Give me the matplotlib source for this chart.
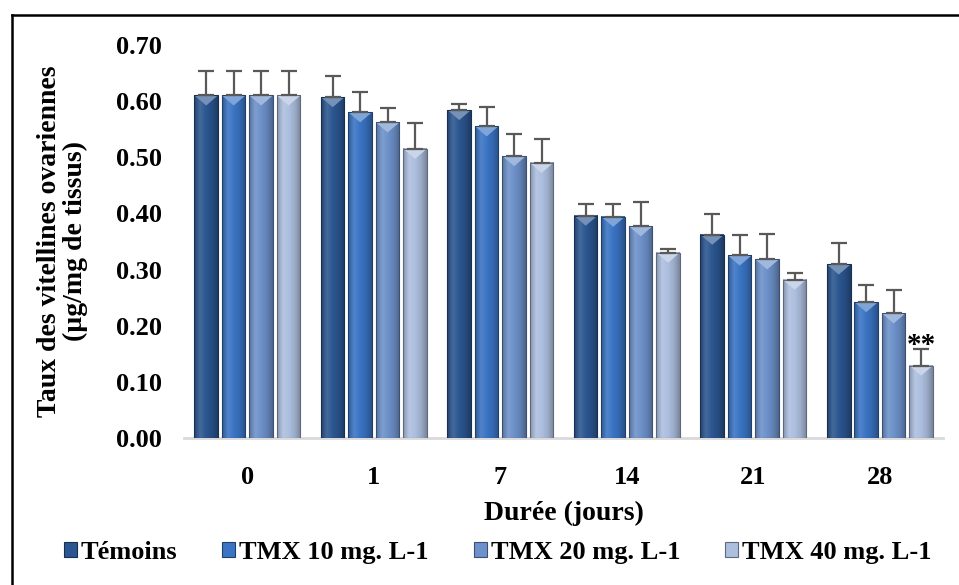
import numpy as np
import matplotlib
matplotlib.use('Agg')
import matplotlib.pyplot as plt
from matplotlib.colors import LinearSegmentedColormap, to_rgb
from matplotlib.patches import Patch, Polygon
from matplotlib.lines import Line2D

jours = ['0', '1', '7', '14', '21', '28']
series = ['Témoins', 'TMX 10 mg. L-1', 'TMX 20 mg. L-1', 'TMX 40 mg. L-1']

temoins = [0.610, 0.607, 0.584, 0.396, 0.362, 0.309]
tmx10 = [0.610, 0.580, 0.555, 0.394, 0.325, 0.242]
tmx20 = [0.610, 0.562, 0.502, 0.377, 0.318, 0.222]
tmx40 = [0.610, 0.515, 0.490, 0.330, 0.282, 0.129]

err_temoins = [0.043, 0.037, 0.010, 0.021, 0.037, 0.038]
err_tmx10 = [0.043, 0.036, 0.034, 0.022, 0.036, 0.030]
err_tmx20 = [0.043, 0.026, 0.040, 0.043, 0.046, 0.041]
err_tmx40 = [0.043, 0.045, 0.043, 0.007, 0.011, 0.030]

signif_label = '**'   # on TMX 40, day 28

colors = ['#2b5690', '#3a74c3', '#6d91ca', '#adbfdf']

plt.rcParams['font.family'] = ['Liberation Serif', 'DejaVu Serif']
plt.rcParams['font.weight'] = 'bold'


def shade(c, f):
    r = np.array(to_rgb(c))
    if f < 1:
        return tuple(r * f)
    return tuple(r + (1 - r) * (f - 1))


fig = plt.figure(figsize=(9.59, 5.85), dpi=100)
ax = fig.add_axes([0.192, 0.2513, 0.7915, 0.672])

values = [temoins, tmx10, tmx20, tmx40]
errors = [err_temoins, err_tmx10, err_tmx20, err_tmx40]
x = np.arange(len(jours))
pitch = 0.217
width = 0.186

ylim = (0, 0.70)
handles = []
for i, (vals, errs, col) in enumerate(zip(values, errors, colors)):
    pos = x + (i - 1.5) * pitch
    bars = ax.bar(pos, vals, width, facecolor='none', edgecolor=shade(col, 0.55),
                  linewidth=0.8, zorder=3)
    cmap = LinearSegmentedColormap.from_list(
        'g%d' % i, [shade(col, 0.78), shade(col, 1.12), col, shade(col, 0.9), shade(col, 0.7)])
    grad = np.linspace(0, 1, 64).reshape(1, -1)
    for rect in bars:
        x0, w, h = rect.get_x(), rect.get_width(), rect.get_height()
        ax.imshow(grad, extent=[x0, x0 + w, 0, h], cmap=cmap, aspect='auto',
                  interpolation='bicubic', zorder=2)
        dh = 0.018
        tri = Polygon([(x0, h), (x0 + w, h), (x0 + w / 2, h - dh)], closed=True,
                      facecolor=shade(col, 1.35), edgecolor='none', zorder=2.5)
        ax.add_patch(tri)
    ax.errorbar(pos, vals, yerr=[np.zeros(len(vals)), errs], fmt='none',
                ecolor='#595959', elinewidth=1.6, capsize=5.5, capthick=1.6, zorder=4)
    handles.append(Patch(facecolor=col, edgecolor=shade(col, 0.55), linewidth=0.8))

# significance mark
last = len(jours) - 1
ax.text(x[last] + 1.5 * pitch, tmx40[last] + err_tmx40[last] + 0.006, signif_label,
        ha='center', va='center', fontsize=21, fontweight='bold')

ax.set_xlim(-0.5, len(jours) - 0.5)
ax.set_ylim(*ylim)
ax.set_yticks(np.arange(0, 0.71, 0.1))
ax.set_yticklabels(['%.2f' % v for v in np.arange(0, 0.71, 0.1)])
ax.set_xticks(x)
ax.set_xticklabels(jours)
ax.tick_params(axis='both', length=0, labelsize=19)
ax.tick_params(axis='x', pad=20)
ax.tick_params(axis='y', pad=16)

for s in ['top', 'right', 'left']:
    ax.spines[s].set_visible(False)
ax.spines['bottom'].set_color('#d9d9d9')
ax.spines['bottom'].set_linewidth(2)
ax.spines['bottom'].set_zorder(1)

ax.set_xlabel('Durée (jours)', fontsize=20, fontweight='bold', labelpad=9)
ax.set_ylabel('Taux des vitellines ovariennes\n(µg/mg de tissus)', fontsize=20,
              fontweight='bold', labelpad=20, linespacing=1.05)

fig.legend(handles, series, loc='center', bbox_to_anchor=(0.519, 0.056), ncol=4,
           frameon=False, handlelength=0.5, handleheight=0.5, handletextpad=0.15,
           columnspacing=1.7, prop={'size': 19, 'weight': 'bold'})

# outer frame (left and top edges only visible)
fig.add_artist(Line2D([0.0125, 1.0], [0.974, 0.974], transform=fig.transFigure,
                      color='black', linewidth=1.8))
fig.add_artist(Line2D([0.0125, 0.0125], [0.0, 0.974], transform=fig.transFigure,
                      color='black', linewidth=1.8))

fig.savefig('out.png', dpi=100)
